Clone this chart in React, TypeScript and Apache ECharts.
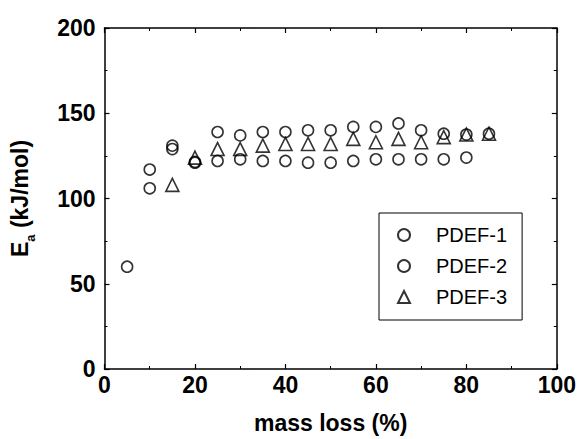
import React, { useEffect, useRef } from "react";
import * as echarts from "echarts";

const xTicks = [0, 20, 40, 60, 80, 100];
const yTicks = [0, 50, 100, 150, 200];

const pdef1X = [5, 10, 15, 20, 25, 30, 35, 40, 45, 50, 55, 60, 65, 70, 75, 80];
const pdef1Y = [60, 106, 129, 121, 122, 123, 122, 122, 121, 121, 122, 123, 123, 123, 123, 124];

const pdef2X = [10, 15, 20, 25, 30, 35, 40, 45, 50, 55, 60, 65, 70, 75, 80, 85];
const pdef2Y = [117, 131, 121.5, 139, 137, 139, 139, 140, 140, 142, 142, 144, 140, 138, 137.5, 138];

const pdef3X = [15, 20, 25, 30, 35, 40, 45, 50, 55, 60, 65, 70, 75, 80, 85];
const pdef3Y = [108, 124, 129, 129, 131, 132, 132, 132, 135, 133, 135, 133, 136, 137.5, 138];

const seriesNames = ["PDEF-1", "PDEF-2", "PDEF-3"];

const FONT = 'Arial, "Liberation Sans", sans-serif';

function zip(xs: number[], ys: number[]) {
  return xs.map((x, i) => [x, ys[i]]);
}

export default function App() {
  const ref = useRef<HTMLDivElement>(null);

  useEffect(() => {
    if (!ref.current) return;
    const chart = echarts.init(ref.current, undefined, { renderer: "svg" });

    const markerStyle = {
      color: "rgba(0,0,0,0)",
      borderColor: "#000",
      borderWidth: 1.6,
    };

    const tickCommon = {
      axisLine: { show: true, onZero: false, lineStyle: { color: "#000", width: 1.5 } },
      axisTick: { show: true, inside: true, length: 5, lineStyle: { color: "#000", width: 1.2 } },
      minorTick: { show: true, splitNumber: 2, length: 3, lineStyle: { color: "#000", width: 1 } },
      splitLine: { show: false },
    };

    chart.setOption({
      animation: false,
      backgroundColor: "#fff",
      grid: { left: 103, right: 22, top: 28, bottom: 63, containLabel: false },
      legend: {
        orient: "vertical",
        left: 379,
        top: 213,
        data: seriesNames,
        borderColor: "#000",
        borderWidth: 1,
        backgroundColor: "#fff",
        padding: [12, 15, 13, 18],
        itemGap: 11,
        itemWidth: 12,
        itemHeight: 12,
        formatter: (name: string) => `{t|${name}}`,
        textStyle: {
          color: "#000",
          fontFamily: FONT,
          fontSize: 20,
          rich: {
            t: { fontSize: 20, fontFamily: FONT, color: "#000", padding: [0, 0, 0, 21], lineHeight: 22 },
          },
        },
      },
      xAxis: [
        {
          type: "value",
          min: xTicks[0],
          max: xTicks[xTicks.length - 1],
          interval: 20,
          name: "mass loss (%)",
          nameLocation: "middle",
          nameGap: 42,
          nameTextStyle: { color: "#000", fontFamily: FONT, fontSize: 23, fontWeight: "bold" },
          axisLabel: { color: "#000", fontFamily: FONT, fontSize: 23, fontWeight: "bold", margin: 4 },
          ...tickCommon,
        },
        {
          type: "value",
          position: "top",
          min: xTicks[0],
          max: xTicks[xTicks.length - 1],
          interval: 20,
          axisLabel: { show: false },
          ...tickCommon,
        },
      ],
      yAxis: [
        {
          type: "value",
          min: yTicks[0],
          max: yTicks[yTicks.length - 1],
          interval: 50,
          name: "{e|E}{s|a}{e| (kJ/mol)}",
          nameLocation: "middle",
          nameGap: 68,
          nameTextStyle: {
            color: "#000",
            fontFamily: FONT,
            fontSize: 23,
            fontWeight: "bold",
            rich: {
              e: { fontSize: 23, fontWeight: "bold", fontFamily: FONT, color: "#000", verticalAlign: "middle", lineHeight: 28 },
              s: { fontSize: 13, fontWeight: "bold", fontFamily: FONT, color: "#000", verticalAlign: "bottom", lineHeight: 34 },
            },
          },
          axisLabel: { color: "#000", fontFamily: FONT, fontSize: 23, fontWeight: "bold", margin: 9 },
          ...tickCommon,
        },
        {
          type: "value",
          position: "right",
          min: yTicks[0],
          max: yTicks[yTicks.length - 1],
          interval: 50,
          axisLabel: { show: false },
          ...tickCommon,
        },
      ],
      series: [
        {
          name: seriesNames[0],
          type: "scatter",
          symbol: "circle",
          symbolSize: 11,
          itemStyle: markerStyle,
          data: zip(pdef1X, pdef1Y),
        },
        {
          name: seriesNames[1],
          type: "scatter",
          symbol: "circle",
          symbolSize: 11,
          itemStyle: markerStyle,
          data: zip(pdef2X, pdef2Y),
        },
        {
          name: seriesNames[2],
          type: "scatter",
          symbol: "triangle",
          symbolSize: 13,
          itemStyle: markerStyle,
          data: zip(pdef3X, pdef3Y),
        },
      ],
    });

    return () => chart.dispose();
  }, []);

  return <div ref={ref} style={{ width: 579, height: 439, position: "absolute", left: 0, top: 0 }} />;
}
